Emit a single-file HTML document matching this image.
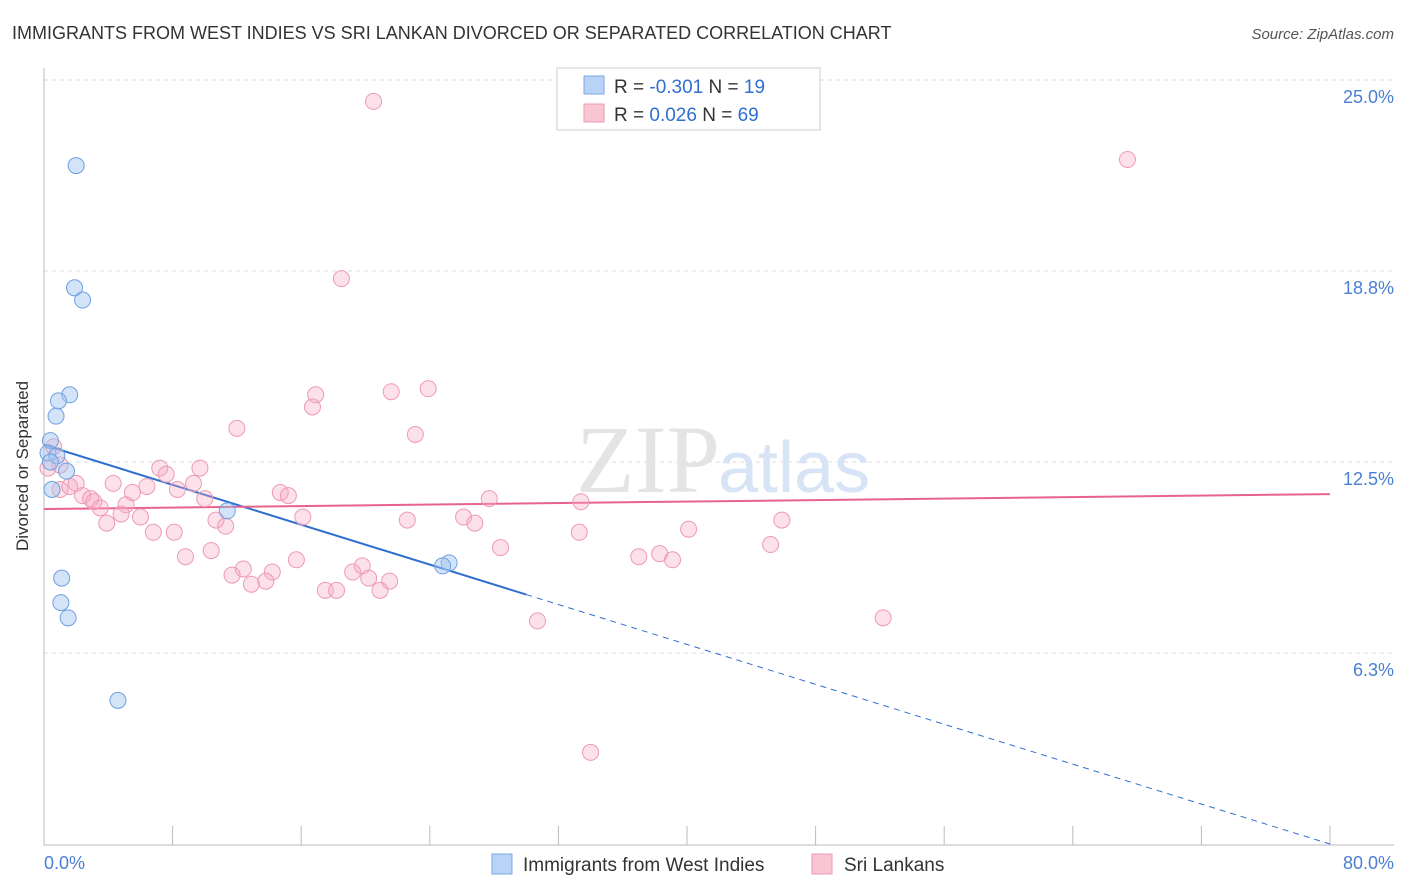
<!DOCTYPE html>
<html><head><meta charset="utf-8"><style>
body{margin:0;background:#fff;font-family:"Liberation Sans",sans-serif;}
svg{display:block}
</style></head><body>
<svg id="c" width="1406" height="892" xmlns="http://www.w3.org/2000/svg">
<text x="12" y="39" font-size="18" fill="#333">IMMIGRANTS FROM WEST INDIES VS SRI LANKAN DIVORCED OR SEPARATED CORRELATION CHART</text>
<text x="1394" y="39" font-size="15" fill="#555" font-style="italic" text-anchor="end">Source: ZipAtlas.com</text>
<g id="grid"></g>
<text x="720" y="492" font-size="96" fill="#e4e4e4" text-anchor="end" font-family="Liberation Serif">ZIP</text>
<text x="718" y="492" font-size="72" fill="#d6e4f5">atlas</text>
<line x1="44" y1="68" x2="44" y2="845" stroke="#bbb"/>
<line x1="44" y1="845" x2="1394" y2="845" stroke="#bbb"/>
<g id="xt"></g>
<text x="18" y="456" font-size="17" fill="#333" text-anchor="middle" transform="rotate(-90 28 456)">Divorced or Separated</text>
<text x="44" y="869" font-size="18" fill="#4a7fd4">0.0%</text>
<text x="1394" y="869" font-size="18" fill="#4a7fd4" text-anchor="end">80.0%</text>
<g id="trend"></g>
<g id="pts"></g>
<g>
<rect x="557" y="68" width="263" height="62" fill="#fff" stroke="#ccc"/>
<rect x="584" y="76" width="20" height="18" fill="#b8d3f5" stroke="#7aa8e6"/>
<rect x="584" y="104" width="20" height="18" fill="#f8c5d3" stroke="#ee9ab2"/>
<text x="614" y="93" font-size="19" fill="#333">R = <tspan fill="#2f6fd0">-0.301</tspan>   N =  <tspan fill="#2f6fd0">19</tspan></text>
<text x="614" y="121" font-size="19" fill="#333">R =  <tspan fill="#2f6fd0">0.026</tspan>   N = <tspan fill="#2f6fd0">69</tspan></text>
</g>
<g>
<rect x="492" y="854" width="20" height="20" fill="#b8d3f5" stroke="#7aa8e6"/>
<text x="523" y="871" font-size="19" fill="#333">Immigrants from West Indies</text>
<rect x="812" y="854" width="20" height="20" fill="#f8c5d3" stroke="#ee9ab2"/>
<text x="844" y="871" font-size="19" fill="#333">Sri Lankans</text>
</g>
</svg>
<script>
const yTicks=[6.25,12.5,18.75,25];
const yTickLabels=["6.3%","12.5%","18.8%","25.0%"];
const xTicks=[0,8,16,24,32,40,48,56,64,72,80];
const blueX=[2.0,1.9,2.4,1.6,0.9,0.75,0.4,0.25,0.8,1.4,0.4,0.5,11.4,25.2,24.8,1.1,1.05,1.5,4.6];
const blueY=[22.2,18.2,17.8,14.7,14.5,14.0,13.2,12.8,12.7,12.2,12.5,11.6,10.9,9.2,9.1,8.7,7.9,7.4,4.7];
const pinkX=[20.5,67.4,18.5,16.9,16.7,21.6,23.9,23.1,12.0,0.6,1.0,0.25,7.2,9.7,7.6,4.3,6.4,9.3,1.0,1.6,2.0,8.3,5.5,2.4,2.9,3.1,10.0,14.7,15.2,27.7,33.4,3.5,5.1,4.8,6.0,10.7,11.3,16.1,22.6,26.1,26.8,45.9,40.1,3.9,6.8,8.1,33.3,45.2,28.4,10.4,8.8,15.7,37.0,38.3,39.1,12.4,11.7,14.2,19.2,19.8,20.2,21.5,13.8,12.9,17.5,18.2,20.9,30.7,52.2,34.0];
const pinkY=[24.3,22.4,18.5,14.7,14.3,14.8,14.9,13.4,13.6,13.0,12.4,12.3,12.3,12.3,12.1,11.8,11.7,11.8,11.6,11.7,11.8,11.6,11.5,11.4,11.3,11.2,11.3,11.5,11.4,11.3,11.2,11.0,11.1,10.8,10.7,10.6,10.4,10.7,10.6,10.7,10.5,10.6,10.3,10.5,10.2,10.2,10.2,9.8,9.7,9.6,9.4,9.3,9.4,9.5,9.3,9.0,8.8,8.9,8.9,9.1,8.7,8.6,8.6,8.5,8.3,8.3,8.3,7.3,7.4,3.0];
const blueTrend=[13.06,0];
const pinkTrend=[10.96,11.45];
const X=v=>44+v*16.075, Y=v=>844-v*30.56;
const NS="http://www.w3.org/2000/svg";
function mk(t,a,p){const e=document.createElementNS(NS,t);for(const k in a)e.setAttribute(k,a[k]);p.appendChild(e);return e;}
const g=document.getElementById('grid');
yTicks.forEach((v,i)=>{
 const l=mk('line',{x1:44,x2:1394,y1:Y(v),y2:Y(v),stroke:'#ddd','stroke-dasharray':'4,4'},g);
 
 
 const t=mk('text',{x:1394,y:Y(v)+23,'font-size':18,fill:'#4a7fd4','text-anchor':'end'},g);
 
 
 t.textContent=yTickLabels[i];
});
const xt=document.getElementById('xt');
xTicks.forEach(v=>{
 const l=mk('line',{x1:X(v),x2:X(v),y1:826,y2:845,stroke:'#bbb'},xt);
 
 
});
const tr=document.getElementById('trend');
const bx=30;
const bMid=blueTrend[0]+(blueTrend[1]-blueTrend[0])*bx/80;
let l1=mk('line',{x1:X(0),y1:Y(blueTrend[0]),x2:X(bx),y2:Y(bMid),stroke:'#2f6fd0','stroke-width':2},tr);


let l2=mk('line',{x1:X(bx),y1:Y(bMid),x2:X(80),y2:Y(blueTrend[1]),stroke:'#2f6fd0','stroke-width':1,'stroke-dasharray':'6,5'},tr);


let l3=mk('line',{x1:X(0),y1:Y(pinkTrend[0]),x2:X(80),y2:Y(pinkTrend[1]),stroke:'#e8638c','stroke-width':2},tr);


const pts=document.getElementById('pts');
pinkX.forEach((v,i)=>{
 const c=mk('circle',{cx:X(v),cy:Y(pinkY[i]),r:8,fill:'rgba(245,170,195,0.35)',stroke:'#ee9ab2','stroke-width':1},pts);
 
 
});
blueX.forEach((v,i)=>{
 const c=mk('circle',{cx:X(v),cy:Y(blueY[i]),r:8,fill:'rgba(160,195,240,0.45)',stroke:'#6f9fe0','stroke-width':1},pts);
 
 
});
</script>
</body></html>
